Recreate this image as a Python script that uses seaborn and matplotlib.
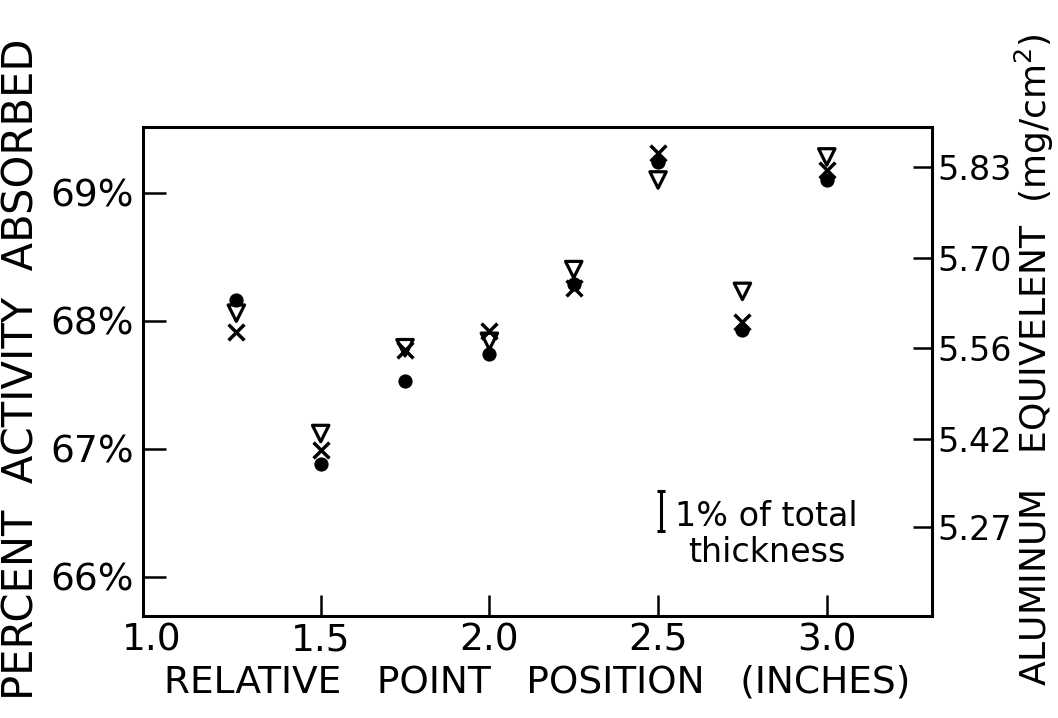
import matplotlib
matplotlib.use("Agg")
import matplotlib.pyplot as plt
import seaborn as sns
import pandas as pd

# Relative point positions (inches)
positions = [1.25, 1.5, 1.75, 2.0, 2.25, 2.5, 2.75, 3.0]

# Percent activity absorbed for the three measurement sets
absorbed_circle = [68.16, 66.88, 67.53, 67.74, 68.29, 69.24, 67.93, 69.10]
absorbed_triangle = [68.06, 67.12, 67.79, 67.84, 68.40, 69.10, 68.23, 69.28]
absorbed_cross = [67.91, 66.99, 67.77, 67.92, 68.26, 69.31, 67.99, 69.18]

# Axis ticks
x_ticks = [1.0, 1.5, 2.0, 2.5, 3.0]
x_tick_labels = ["1.0", "1.5", "2.0", "2.5", "3.0"]
left_ticks = [66, 67, 68, 69]
left_tick_labels = ["66%", "67%", "68%", "69%"]
# aluminium equivalent (mg/cm^2) marks, placed on the percent scale
right_tick_pos = [66.39, 67.08, 67.79, 68.49, 69.20]
right_tick_labels = ["5.27", "5.42", "5.56", "5.70", "5.83"]

# length of the "1% of total thickness" scale bar, in percent units
scale_bar_length = 0.31
scale_bar_x = 2.508
scale_bar_bottom = 66.36

df = pd.DataFrame({
    "position": positions,
    "circle": absorbed_circle,
    "triangle": absorbed_triangle,
    "cross": absorbed_cross,
})

sns.set_theme(style="white")
plt.rcParams["font.family"] = ["DejaVu Sans"]

W, H = 1058, 718
fig = plt.figure(figsize=(W / 100, H / 100), dpi=100)
ax = fig.add_axes([142.7 / W, 1 - 616 / H, (931.7 - 142.7) / W, (616 - 126.7) / H])

sns.scatterplot(data=df, x="position", y="circle", ax=ax, marker="o",
                s=105, color="black", edgecolor="black", linewidth=0, zorder=3)
sns.scatterplot(data=df, x="position", y="triangle", ax=ax, marker="v",
                s=140, facecolor="none", edgecolor="black", linewidth=2.3, zorder=4)
sns.scatterplot(data=df, x="position", y="cross", ax=ax, marker="x",
                s=130, color="black", linewidth=2.5, zorder=5)

ax.set_xlim(0.9725, 3.311)
ax.set_ylim(65.695, 69.516)

for side in ["left", "right", "top", "bottom"]:
    ax.spines[side].set_visible(True)
    ax.spines[side].set_color("black")
    ax.spines[side].set_linewidth(2.2)

ax.set_xticks(x_ticks)
ax.set_xticklabels(x_tick_labels, fontsize=27)
ax.set_yticks(left_ticks)
ax.set_yticklabels(left_tick_labels, fontsize=27)
ax.tick_params(axis="x", direction="in", length=15, width=1.8, pad=5,
               colors="black", bottom=True, top=False)
ax.tick_params(axis="y", direction="in", length=16.5, width=1.8, pad=6,
               colors="black", left=True, right=False)
ax.xaxis.get_major_ticks()[0].tick1line.set_visible(False)
ax.set_xlabel("")
ax.set_ylabel("")

ax2 = ax.twinx()
ax2.set_ylim(ax.get_ylim())
ax2.set_yticks(right_tick_pos)
ax2.set_yticklabels(right_tick_labels, fontsize=24)
ax2.tick_params(axis="y", direction="in", length=14, width=1.8, pad=4,
                colors="black", right=True, left=False)
for side in ["left", "right", "top", "bottom"]:
    ax2.spines[side].set_visible(False)

# scale bar with its legend text
ax.errorbar([scale_bar_x], [scale_bar_bottom + scale_bar_length / 2],
            yerr=[scale_bar_length / 2], fmt="none", ecolor="black",
            elinewidth=2.2, capsize=2.6, capthick=2.2)
ax.text(2.822, 66.115, "1% of total\nthickness", ha="center", va="baseline",
        multialignment="center", fontsize=24, linespacing=1.12, color="black")

fig.text(537 / W, 1 - 692 / H, "RELATIVE   POINT   POSITION   (INCHES)",
         ha="center", va="baseline", fontsize=27, color="black")
fig.text(22 / W, 1 - 369 / H, "PERCENT  ACTIVITY  ABSORBED", rotation=90,
         ha="center", va="center", fontsize=30, color="black")
fig.text(1034 / W, 1 - 360 / H, "ALUMINUM   EQUIVELENT  (mg/cm$^2$)", rotation=90,
         ha="center", va="center", fontsize=26, color="black")

fig.savefig("out.png", dpi=100, facecolor="white")
